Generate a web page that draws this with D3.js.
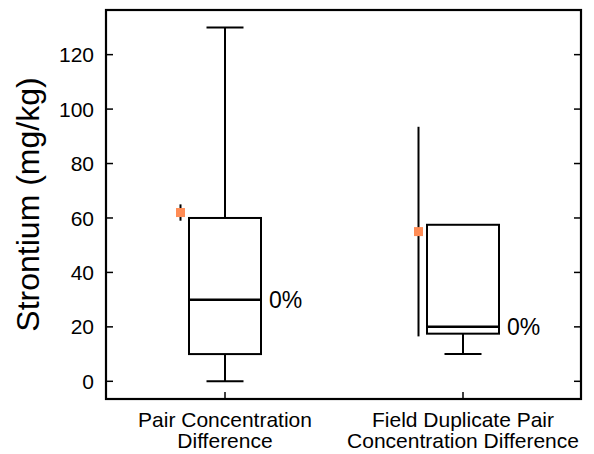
<!DOCTYPE html>
<html><head><meta charset="utf-8">
<script src="https://cdn.jsdelivr.net/npm/d3@7"></script>
<style>body{margin:0;background:#fff}svg{display:block}text{font-family:Arial,"Liberation Sans",sans-serif;fill:#000}</style>
</head><body><svg id="c" width="594" height="454"></svg>
<script>
const categories = ["Pair Concentration\nDifference", "Field Duplicate Pair\nConcentration Difference"];
const q1 = [10, 17.5];
const median = [30, 20];
const q3 = [60, 57.5];
const whiskerLow = [0, 10];
const whiskerHigh = [130, null];
const pctLabels = ["0%", "0%"];
const markerValue = [62, 55];
const markerRangeLow = [59, 16.5];
const markerRangeHigh = [65, 93.5];
const yTicks = [0, 20, 40, 60, 80, 100, 120];

const svg = d3.select("#c");
const L = 106, R = 581, T = 10, B = 399;
const y = d3.scaleLinear().domain([-6.5, 136.4]).range([B, T]);
const x = d3.scalePoint().domain(d3.range(categories.length)).range([225, 463]);
const boxW = 72, capW = 37, markerOff = -44.5;

const g = svg.append("g");
yTicks.forEach(v => {
  g.append("line").attr("x1", L).attr("x2", L + 7).attr("y1", y(v)).attr("y2", y(v)).attr("stroke", "#000").attr("stroke-width", 1.5);
  g.append("line").attr("x1", R - 7).attr("x2", R).attr("y1", y(v)).attr("y2", y(v)).attr("stroke", "#000").attr("stroke-width", 1.5);
  g.append("text").attr("x", L - 12).attr("y", y(v)).attr("dy", "0.36em").attr("text-anchor", "end").attr("font-size", 21).text(v);
});
categories.forEach((c, i) => {
  g.append("line").attr("x1", x(i)).attr("x2", x(i)).attr("y1", B).attr("y2", B - 7).attr("stroke", "#000").attr("stroke-width", 1.5);
  const t = g.append("text").attr("text-anchor", "middle").attr("font-size", 21);
  c.split("\n").forEach((ln, k) => t.append("tspan").attr("x", x(i)).attr("y", 427 + k * 21).text(ln));
});

categories.forEach((c, i) => {
  const cx = x(i);
  const b = svg.append("g").attr("stroke", "#000").attr("fill", "none");
  b.append("rect").attr("x", cx - boxW / 2).attr("y", y(q3[i])).attr("width", boxW).attr("height", y(q1[i]) - y(q3[i])).attr("stroke-width", 2);
  b.append("line").attr("x1", cx - boxW / 2).attr("x2", cx + boxW / 2).attr("y1", y(median[i])).attr("y2", y(median[i])).attr("stroke-width", 2.5);
  b.append("line").attr("x1", cx).attr("x2", cx).attr("y1", y(q1[i])).attr("y2", y(whiskerLow[i])).attr("stroke-width", 2);
  b.append("line").attr("x1", cx - capW / 2).attr("x2", cx + capW / 2).attr("y1", y(whiskerLow[i])).attr("y2", y(whiskerLow[i])).attr("stroke-width", 2);
  if (whiskerHigh[i] != null) {
    b.append("line").attr("x1", cx).attr("x2", cx).attr("y1", y(q3[i])).attr("y2", y(whiskerHigh[i])).attr("stroke-width", 2);
    b.append("line").attr("x1", cx - capW / 2).attr("x2", cx + capW / 2).attr("y1", y(whiskerHigh[i])).attr("y2", y(whiskerHigh[i])).attr("stroke-width", 2);
  }
  const mx = cx + markerOff;
  b.append("line").attr("x1", mx).attr("x2", mx).attr("y1", y(markerRangeLow[i])).attr("y2", y(markerRangeHigh[i])).attr("stroke-width", 2);
  svg.append("rect").attr("x", mx - 4.5).attr("y", y(markerValue[i]) - 4.5).attr("width", 9).attr("height", 9).attr("fill", "#ff8c55");
  svg.append("text").attr("x", cx + boxW / 2 + 8).attr("y", y(median[i])).attr("dy", "0.36em").attr("font-size", 23).text(pctLabels[i]);
});

svg.append("rect").attr("x", L).attr("y", T).attr("width", R - L).attr("height", B - T).attr("fill", "none").attr("stroke", "#000").attr("stroke-width", 2.2);

svg.append("text").attr("transform", `translate(39,${(T + B) / 2}) rotate(-90)`).attr("text-anchor", "middle").attr("font-size", 32).text("Strontium (mg/kg)");
</script></body></html>
